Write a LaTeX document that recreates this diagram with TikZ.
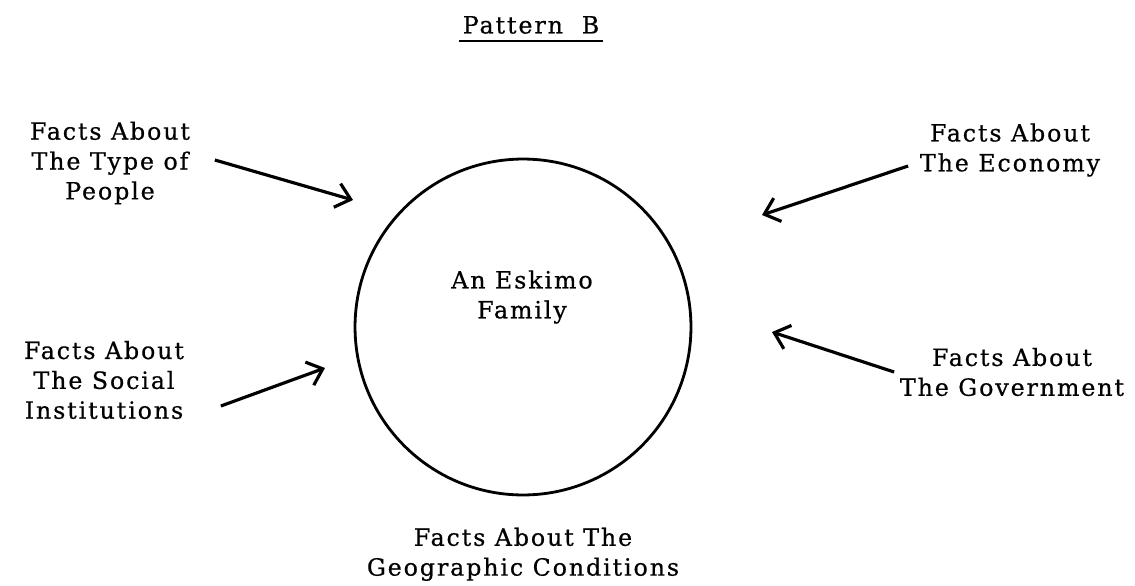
\documentclass[tikz,border=0pt]{standalone}
\usepackage{fontspec}
\setmainfont{DejaVu Serif}[LetterSpace=8,FakeBold=0.6]
\usetikzlibrary{positioning,arrows.meta}

\begin{document}
\begin{tikzpicture}[
x=0.02cm,
y=-0.02cm,
every node/.style={
align=center,
inner sep=2pt,
font=\fontsize{13.5}{17}\selectfont
},
ring/.style={
draw,
circle,
line width=1.6pt,
minimum size=6.72cm,
inner sep=0pt
},
fact arrow/.style={->,line width=1.8pt},
>={Straight Barb[length=8pt,width=14pt,line width=1.8pt]}
]
\useasboundingbox (0,0) rectangle (1135,585);

\node (title) at (531,25) {Pattern\ \ B};
\draw[line width=1.3pt] ([yshift=-2pt]title.south west) -- ([yshift=-2pt]title.south east);

\node[ring] (circ) at (523,327) {};
\node (eskimo) at (522,297) {An Eskimo\\Family};

\node (type) at (110,163) {Facts About\\The Type of\\People};
\node (social) at (104,380) {Facts About\\The Social\\Institutions};
\node (economy) at (1010,150) {Facts About\\The Economy};
\node (govt) at (1012,372) {Facts About\\The Government};
\node (geo) [below=0.55cm of circ] {Facts About The\\Geographic Conditions};

% arrow heads stop short of the circle
\coordinate (typehead) at (353,200);
\coordinate (socialhead) at (325,368);
\coordinate (economyhead) at (762,215);
\coordinate (govthead) at (772,332);

\draw[fact arrow] ([shift={(21,-3)}]type.east) -- (typehead);
\draw[fact arrow] ([shift={(33,26)}]social.east) -- (socialhead);
\draw[fact arrow] ([shift={(-8,16)}]economy.west) -- (economyhead);
\draw[fact arrow] ([shift={(-2,0)}]govt.west) -- (govthead);

\end{tikzpicture}
\end{document}
